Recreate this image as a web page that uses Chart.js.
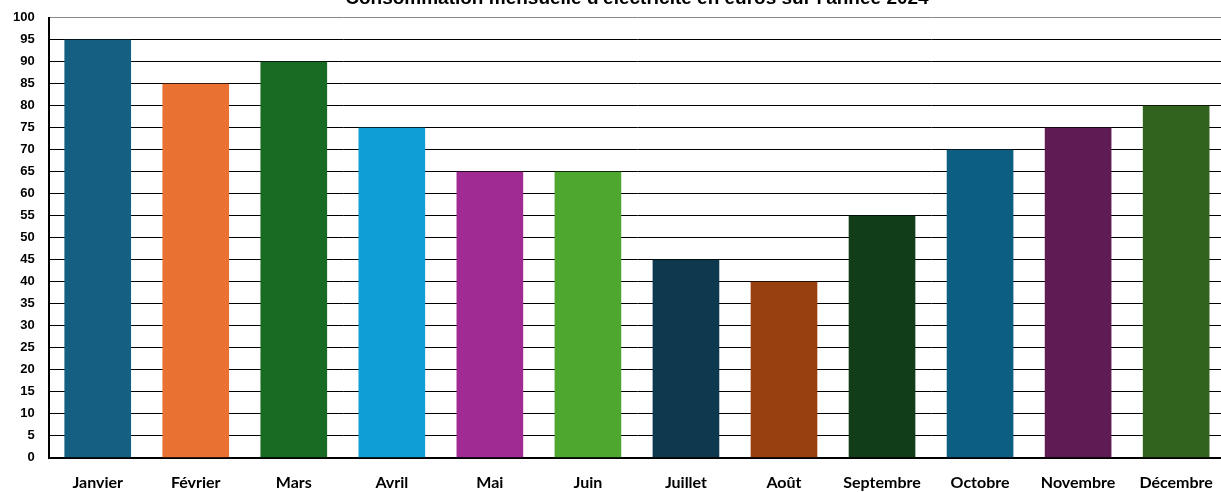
<!DOCTYPE html>
<html lang="fr">
<head>
    <meta charset="UTF-8">
    <title>Consommation mensuelle d'électricité</title>
    <style>
    body {
        margin: 0;
        padding: 0;
        background-color: white;
        overflow: hidden;
    }
    .chart-container {
        position: absolute;
        top: -20px;
        left: -1px;
        width: 1229px;
        height: 527px;
    }
    </style>
    <script src="https://cdn.jsdelivr.net/npm/chart.js"></script>
</head>
<body>
    <div class="chart-container">
        <canvas id="elecChart"></canvas>
    </div>

    <script>
    // données
    const mois = ['Janvier', 'Février', 'Mars', 'Avril', 'Mai', 'Juin', 'Juillet', 'Août', 'Septembre', 'Octobre', 'Novembre', 'Décembre'];
    const consommation = [95, 85, 90, 75, 65, 65, 45, 40, 55, 70, 75, 80];
    const couleurs = [
        '#156082', '#e97132', '#196b24', '#0f9ed5', '#a02b93', '#4ea72e',
        '#0e384e', '#994011', '#113e18', '#0c5f80', '#5f1b53', '#31631f'
    ];

    const ctx = document.getElementById('elecChart').getContext('2d');
    new Chart(ctx, {
        type: 'bar',
        data: {
            labels: mois,
            datasets: [{
                label: 'Consommation (€)',
                data: consommation,
                backgroundColor: couleurs,
                borderWidth: 0,
                categoryPercentage: 1,
                barPercentage: 0.68
            }]
        },
        options: {
            responsive: true,
            maintainAspectRatio: false,
            animation: false,
            layout: {
                padding: { left: 0, right: 0, top: 0, bottom: 0 }
            },
            scales: {
                y: {
                    min: 0,
                    max: 100,
                    ticks: {
                        stepSize: 5,
                        color: '#000',
                        padding: 14,
                        font: { family: 'Liberation Sans, Arial, sans-serif', size: 13, weight: 'bold' }
                    },
                    grid: {
                        color: function(context) {
                            return context.tick.value === 100 ? '#888' : '#000';
                        },
                        lineWidth: 1,
                        drawTicks: false
                    },
                    border: { color: '#000', width: 2 }
                },
                x: {
                    ticks: {
                        color: '#000',
                        padding: 15,
                        maxRotation: 0,
                        autoSkip: false,
                        font: { family: 'Lato, sans-serif', size: 16, weight: 'bold' }
                    },
                    grid: { display: false, drawTicks: false },
                    border: { color: '#000', width: 2 }
                }
            },
            plugins: {
                legend: { display: false },
                tooltip: { enabled: false },
                title: {
                    display: true,
                    fullSize: false,
                    text: "Consommation mensuelle d'électricité en euros sur l'année 2024",
                    color: '#000',
                    font: { family: 'Liberation Sans, Arial, sans-serif', size: 19, weight: 'bold' },
                    padding: { top: 7, bottom: 8 }
                }
            }
        }
    });
    </script>
</body>
</html>
